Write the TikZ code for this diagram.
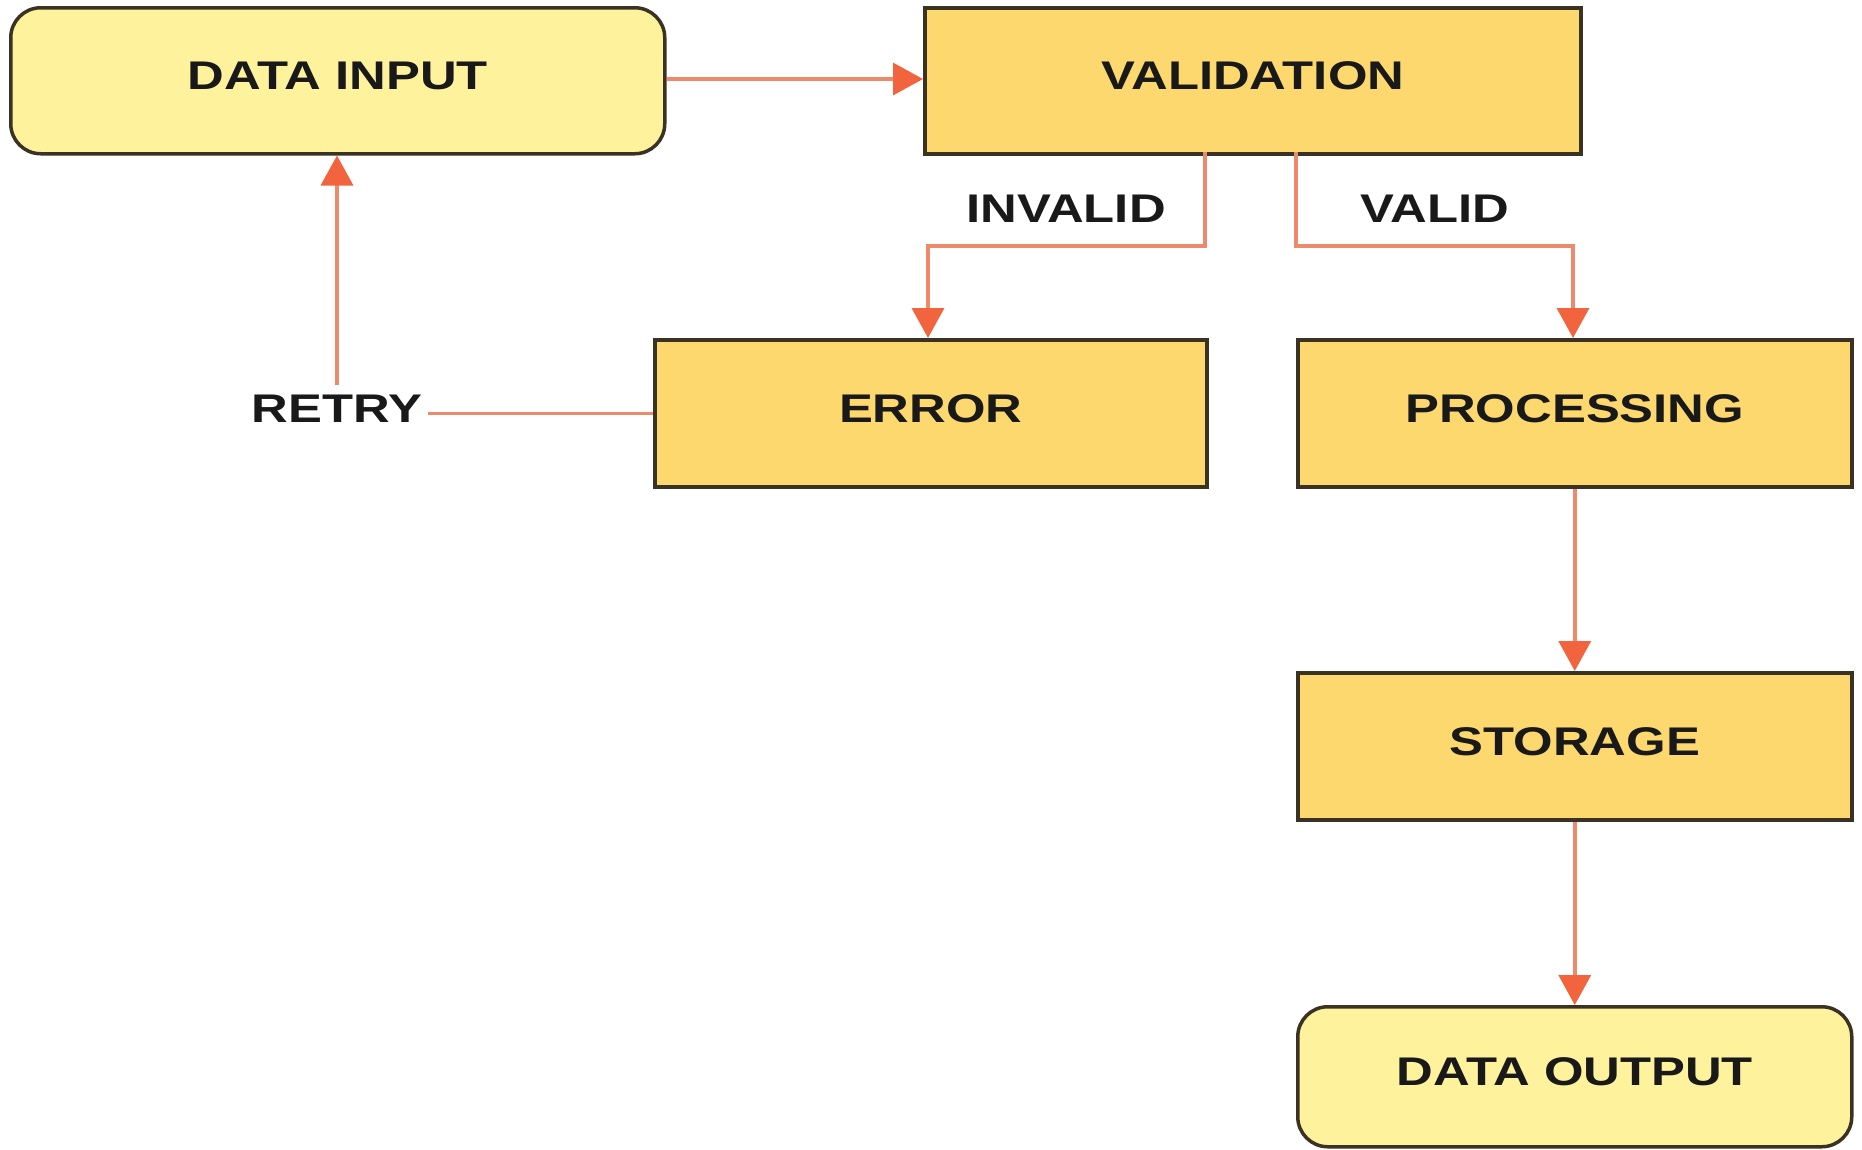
\documentclass[tikz,border=0pt]{standalone}
\usepackage{fontspec}
\setmainfont{Liberation Sans}[FakeStretch=1.27]
\usetikzlibrary{arrows.meta}
\definecolor{termfill}{HTML}{FFF29C}
\definecolor{procfill}{HTML}{FDD86E}
\definecolor{edgecol}{HTML}{3A3222}
\definecolor{linecol}{HTML}{EE8A6C}
\definecolor{tipcol}{HTML}{F2643E}
\tikzset{
  x=1pt, y=-1pt,
  base/.style={draw=edgecol, line width=3.5pt, anchor=north west, inner sep=0pt},
  termbox/.style={base, fill=termfill, rounded corners=30pt},
  procbox/.style={base, fill=procfill},
  lbl/.style={font=\fontsize{40}{48}\selectfont\bfseries, text=black!90, inner sep=0pt},
  boxtext/.style={lbl, yshift=5pt},
  flow/.style={draw=linecol, line width=3.5pt, -{Triangle[length=30pt, width=32pt, color=tipcol]}},
  plain/.style={draw=linecol, line width=3.5pt},
}
\begin{document}
\begin{tikzpicture}
\useasboundingbox (0,0) rectangle (1862,1149);
% boxes
\node[termbox, minimum width=654pt, minimum height=146pt] (input) at (9,6) {};
\node[boxtext] (inputt) at (input.center) {DATA INPUT};
\node[procbox, minimum width=656pt, minimum height=146pt] (valid) at (923,6) {};
\node[boxtext] (validt) at (valid.center) {VALIDATION};
\node[procbox, minimum width=552pt, minimum height=147pt] (error) at (653,338) {};
\node[boxtext] (errort) at (error.center) {ERROR};
\node[procbox, minimum width=554pt, minimum height=147pt] (proc) at (1296,338) {};
\node[boxtext] (proct) at (proc.center) {PROCESSING};
\node[procbox, minimum width=554pt, minimum height=147pt] (store) at (1296,671) {};
\node[boxtext] (storet) at (store.center) {STORAGE};
\node[termbox, minimum width=554pt, minimum height=140pt] (output) at (1296,1005) {};
\node[boxtext] (outputt) at (output.center) {DATA OUTPUT};
% labels
\node[lbl] (linv) at (1066,209) {INVALID};
\node[lbl] (lval) at (1435,209) {VALID};
\node[lbl] (retry) at (337,409) {RETRY};
% coordinates
\coordinate (i1) at (1205,152);
\coordinate (i2) at (1205,246);
\coordinate (i3) at (928,246);
\coordinate (v1) at (1296,152);
\coordinate (v2) at (1296,246);
\coordinate (v3) at (1573,246);
\coordinate (r1) at ([xshift=6pt]retry.east |- error.west);
% connectors
\draw[flow] (input.east |- 0,79) -- (valid.west |- 0,79);
\draw[flow] (i1) -- (i2) -- (i3) -- (i3 |- error.north);
\draw[flow] (v1) -- (v2) -- (v3) -- (v3 |- proc.north);
\draw[flow] (proc.south) -- (store.north);
\draw[flow] (store.south) -- (output.north);
\draw[plain] (r1) -- (error.west);
\draw[flow] (retry.north) ++(0,-10) -- (input.south -| retry.north);
\end{tikzpicture}
\end{document}
